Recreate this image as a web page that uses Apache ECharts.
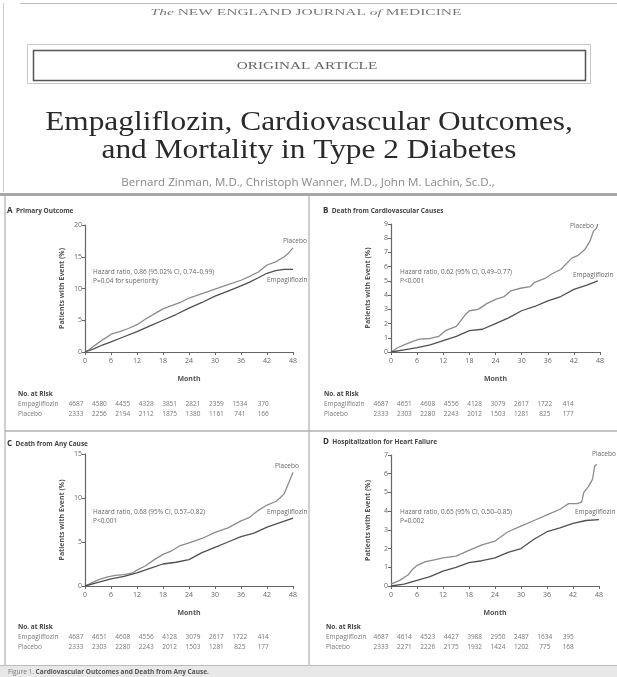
<!DOCTYPE html>
<html>
<head>
<meta charset="utf-8">
<script src="https://cdn.jsdelivr.net/npm/echarts@6/dist/echarts.min.js"></script>
<style>
html,body{margin:0;padding:0;background:#fff}
#main{width:617px;height:677px}
</style>
</head>
<body>
<div id="main"></div>
<script>
// month ticks
var monthTicks = [0, 6, 12, 18, 24, 30, 36, 42, 48];

// A primary outcome  [month, %]
var aPlacebo = [[0,0],[1,0.4],[2,0.9],[3,1.4],[4,1.9],[5,2.3],[6,2.8],[8,3.2],[10,3.7],[12,4.3],[14,5.2],[16,6.0],[18,6.8],[20,7.3],[22,7.8],[24,8.5],[27,9.2],[30,9.9],[33,10.6],[36,11.3],[38,11.9],[40,12.6],[42,13.7],[44,14.2],[46,15.0],[47,15.6],[48,16.4]];
var aEmpa = [[0,0],[2,0.5],[4,1.1],[6,1.6],[9,2.4],[12,3.2],[15,4.1],[18,5.0],[21,5.9],[24,6.9],[27,7.8],[30,8.8],[33,9.6],[36,10.4],[38,11.0],[40,11.7],[42,12.4],[44,12.8],[46,13.0],[48,13.0]];
// B death from CV causes
var bPlacebo = [[0,0],[1.5,0.3],[3,0.5],[5,0.75],[6.5,0.9],[9,0.95],[11,1.1],[12.5,1.5],[15,1.8],[17,2.6],[18,2.9],[20,3.0],[22,3.4],[24,3.7],[26,3.9],[27.5,4.3],[30,4.5],[32,4.6],[33,4.9],[35.5,5.2],[37,5.5],[39,5.8],[41.5,6.6],[43,6.8],[44.5,7.2],[45.7,7.8],[46.5,8.5],[47.2,8.7],[47.5,9.0]];
var bEmpa = [[0,0],[3,0.15],[6,0.3],[9,0.5],[12,0.8],[15,1.1],[18,1.5],[21,1.6],[24,2.0],[27,2.4],[30,2.9],[33,3.2],[36,3.6],[39,3.9],[42,4.4],[45,4.7],[47.5,5.0]];
// C death from any cause
var cPlacebo = [[0,0],[3,0.7],[5,1.0],[7,1.2],[9,1.3],[11,1.5],[12,1.8],[14,2.3],[16,3.0],[18,3.6],[20,4.0],[22,4.6],[24,4.9],[27,5.4],[30,6.1],[33,6.6],[36,7.4],[38,7.8],[40,8.6],[42,9.2],[44,9.6],[45,10.0],[46,10.5],[47,11.7],[48,12.9]];
var cEmpa = [[0,0],[3,0.4],[6,0.8],[9,1.1],[12,1.5],[15,2.0],[18,2.5],[21,2.7],[24,3.0],[27,3.8],[30,4.4],[33,5.0],[36,5.6],[39,6.0],[42,6.7],[45,7.2],[48,7.7]];
// D hospitalization for heart failure
var dPlacebo = [[0,0.1],[2,0.3],[4,0.6],[5,0.9],[6,1.1],[8,1.3],[10,1.4],[12,1.5],[15,1.6],[18,1.9],[21,2.2],[24,2.4],[27,2.9],[30,3.2],[33,3.5],[36,3.8],[39,4.1],[41,4.4],[43,4.4],[44,4.5],[44.5,5.0],[45.5,5.3],[46.5,5.7],[47,6.4],[47.5,6.5]];
var dEmpa = [[0,0],[3,0.1],[6,0.3],[9,0.5],[12,0.8],[15,1.0],[18,1.25],[21,1.35],[24,1.5],[27,1.8],[30,2.0],[33,2.5],[36,2.9],[39,3.1],[42,3.35],[45,3.5],[48,3.55]];

// numbers at risk
var aRiskEmpa = [4687, 4580, 4455, 4328, 3851, 2821, 2359, 1534, 370];
var aRiskPlac = [2333, 2256, 2194, 2112, 1875, 1380, 1161, 741, 166];
var bRiskEmpa = [4687, 4651, 4608, 4556, 4128, 3079, 2617, 1722, 414];
var bRiskPlac = [2333, 2303, 2280, 2243, 2012, 1503, 1281, 825, 177];
var cRiskEmpa = [4687, 4651, 4608, 4556, 4128, 3079, 2617, 1722, 414];
var cRiskPlac = [2333, 2303, 2280, 2243, 2012, 1503, 1281, 825, 177];
var dRiskEmpa = [4687, 4614, 4523, 4427, 3988, 2950, 2487, 1634, 395];
var dRiskPlac = [2333, 2271, 2226, 2175, 1932, 1424, 1202, 775, 168];

var yMax = [20, 9, 15, 7];
var yStep = [5, 1, 5, 1];

var myChart = echarts.init(document.getElementById('main'));

var SANS = '"Open Sans", "Noto Sans", sans-serif';
var SERIF = '"Liberation Serif", "DejaVu Serif", serif';
var GRAY = '#666';
var AXIS = '#666';

// panel boxes
var grids = [
  {left: 85, top: 225, width: 208, height: 127},
  {left: 391, top: 224, width: 209, height: 128},
  {left: 85, top: 454, width: 208, height: 132},
  {left: 391, top: 455, width: 208, height: 131}
];

var xAxes = [], yAxes = [];
for (var i = 0; i < 4; i++) {
  xAxes.push({
    gridIndex: i, type: 'value', min: 0, max: 48, interval: 6,
    name: 'Month', nameLocation: 'middle', nameGap: 23,
    nameTextStyle: {fontSize: 7, fontWeight: 'bold', color: '#555', fontFamily: SANS},
    axisLine: {lineStyle: {color: AXIS, width: 1.2}},
    axisTick: {length: 3, lineStyle: {color: AXIS}},
    axisLabel: {fontSize: 7, color: GRAY, margin: 5, fontFamily: SANS},
    splitLine: {show: false}
  });
  yAxes.push({
    gridIndex: i, type: 'value', min: 0, max: yMax[i], interval: yStep[i],
    name: 'Patients with Event (%)', nameLocation: 'middle', nameGap: 20,
    nameTextStyle: {fontSize: 7, fontWeight: 'bold', color: '#555', fontFamily: SANS},
    axisLine: {show: true, lineStyle: {color: AXIS, width: 1.2}},
    axisTick: {show: true, length: 3, lineStyle: {color: AXIS}},
    axisLabel: {fontSize: 7, color: GRAY, margin: 3, fontFamily: SANS},
    splitLine: {show: false}
  });
}

function curve(idx, name, data, color) {
  return {
    name: name, type: 'line', xAxisIndex: idx, yAxisIndex: idx,
    data: data, showSymbol: false, silent: true,
    lineStyle: {color: color, width: 1.3}
  };
}
var PLAC = '#8c8c8c', EMPA = '#505050';
var series = [
  curve(0, 'Placebo', aPlacebo, PLAC), curve(0, 'Empagliflozin', aEmpa, EMPA),
  curve(1, 'Placebo', bPlacebo, PLAC), curve(1, 'Empagliflozin', bEmpa, EMPA),
  curve(2, 'Placebo', cPlacebo, PLAC), curve(2, 'Empagliflozin', cEmpa, EMPA),
  curve(3, 'Placebo', dPlacebo, PLAC), curve(3, 'Empagliflozin', dEmpa, EMPA)
];

// page furniture
var els = [];
function txt(x, y, s, o) {
  o = o || {};
  els.push({
    type: 'text', x: x, y: y, silent: true, scaleX: o.sx || 1, originX: 0,
    style: {
      text: s, fill: o.color || GRAY, fontSize: o.size || 7,
      fontFamily: o.font || SANS, fontWeight: o.weight || 'normal',
      align: o.align || 'left', verticalAlign: 'middle', rich: o.rich
    }
  });
}
function ln(x1, y1, x2, y2, c, w) {
  els.push({type: 'line', silent: true, shape: {x1: x1, y1: y1, x2: x2, y2: y2},
    style: {stroke: c, lineWidth: w}});
}
function box(x, y, w, h, fill, stroke, lw) {
  els.push({type: 'rect', silent: true, shape: {x: x, y: y, width: w, height: h},
    style: {fill: fill || 'none', stroke: stroke || 'none', lineWidth: lw || 1}});
}

// header
ln(20, 3.5, 617, 3.5, '#bbb', 1);
ln(3.5, 3, 3.5, 192, '#ccc', 1);
txt(306, 13, '{i|The} NEW ENGLAND JOURNAL {i|of} MEDICINE', {
  align: 'center', size: 9, color: '#777', font: SERIF, sx: 1.72,
  rich: {i: {fontStyle: 'italic', fontSize: 9, fontFamily: SERIF, fill: '#777'}}
});
box(27.5, 44.5, 563, 39, null, '#c8c8c8', 1);
box(33.5, 50.5, 552, 30, '#fff', '#555', 1.5);
txt(307, 66, 'ORIGINAL ARTICLE', {align: 'center', size: 11, color: '#666', font: SERIF, sx: 1.38});
txt(309, 123, 'Empagliflozin, Cardiovascular Outcomes,', {align: 'center', size: 28, color: '#2a2a2a', font: SERIF, sx: 1.12});
txt(309, 151, 'and Mortality in Type 2 Diabetes', {align: 'center', size: 28, color: '#2a2a2a', font: SERIF, sx: 1.12});
txt(308, 183, 'Bernard Zinman, M.D., Christoph Wanner, M.D., John M. Lachin, Sc.D.,', {align: 'center', size: 11, color: '#888', sx: 1.05});

// frame of the figure
box(0, 193, 617, 3, '#a8a8a8');
ln(5, 196, 5, 666, '#b0b0b0', 1.2);
ln(309, 196, 309, 666, '#b0b0b0', 1.2);
ln(5, 431, 617, 431, '#b0b0b0', 1.5);
box(0, 665, 617, 12, '#e8e8e8');
ln(0, 665.5, 617, 665.5, '#bdbdbd', 1);
txt(8, 672, 'Figure 1. {b|Cardiovascular Outcomes and Death from Any Cause.}', {
  size: 6.5, color: '#777',
  rich: {b: {fontWeight: 'bold', fontSize: 6.5, fontFamily: SANS, fill: '#555'}}
});

// panel titles
var titles = [['A', 'Primary Outcome', 7, 211], ['B', 'Death from Cardiovascular Causes', 323, 211],
              ['C', 'Death from Any Cause', 7, 444], ['D', 'Hospitalization for Heart Failure', 323, 442]];
titles.forEach(function (t) {
  txt(t[2], t[3], '{l|' + t[0] + '}  ' + t[1], {
    size: 6.5, weight: 'bold', color: '#444',
    rich: {l: {fontSize: 8, fontWeight: 'bold', fontFamily: SANS, fill: '#333'}}
  });
});

// hazard ratio notes
var notes = [
  ['Hazard ratio, 0.86 (95.02% CI, 0.74\u20130.99)', 'P=0.04 for superiority', 93, 272],
  ['Hazard ratio, 0.62 (95% CI, 0.49\u20130.77)', 'P<0.001', 400, 272],
  ['Hazard ratio, 0.68 (95% CI, 0.57\u20130.82)', 'P<0.001', 93, 512],
  ['Hazard ratio, 0.65 (95% CI, 0.50\u20130.85)', 'P=0.002', 400, 512]
];
notes.forEach(function (n) {
  txt(n[2], n[3], n[0], {size: 6.5, color: '#666'});
  txt(n[2], n[3] + 9, n[1], {size: 6.5, color: '#666'});
});

// curve end labels
var endLabels = [
  ['Placebo', 283, 241], ['Empagliflozin', 267, 280],
  ['Placebo', 570, 226], ['Empagliflozin', 573, 275],
  ['Placebo', 275, 466], ['Empagliflozin', 267, 512],
  ['Placebo', 592, 454], ['Empagliflozin', 575, 512]
];
endLabels.forEach(function (e) { txt(e[1], e[2], e[0], {size: 6.5, color: '#666'}); });

// numbers at risk tables
var risk = [
  [aRiskEmpa, aRiskPlac, 18, 76, 394],
  [bRiskEmpa, bRiskPlac, 324, 381, 394],
  [cRiskEmpa, cRiskPlac, 18, 76, 627],
  [dRiskEmpa, dRiskPlac, 326, 381, 627]
];
risk.forEach(function (r) {
  txt(r[2], r[4], 'No. at Risk', {size: 6.5, weight: 'bold', color: '#444'});
  txt(r[2], r[4] + 10, 'Empagliflozin', {size: 6.5, color: '#777'});
  txt(r[2], r[4] + 20, 'Placebo', {size: 6.5, color: '#777'});
  for (var k = 0; k < monthTicks.length; k++) {
    txt(r[3] + k * 23.4, r[4] + 10, String(r[0][k]), {size: 6.5, color: '#777', align: 'center'});
    txt(r[3] + k * 23.4, r[4] + 20, String(r[1][k]), {size: 6.5, color: '#777', align: 'center'});
  }
});

var option = {
  backgroundColor: '#fff',
  animation: false,
  grid: grids,
  xAxis: xAxes,
  yAxis: yAxes,
  series: series,
  graphic: {elements: els}
};
myChart.setOption(option);
</script>
</body>
</html>
